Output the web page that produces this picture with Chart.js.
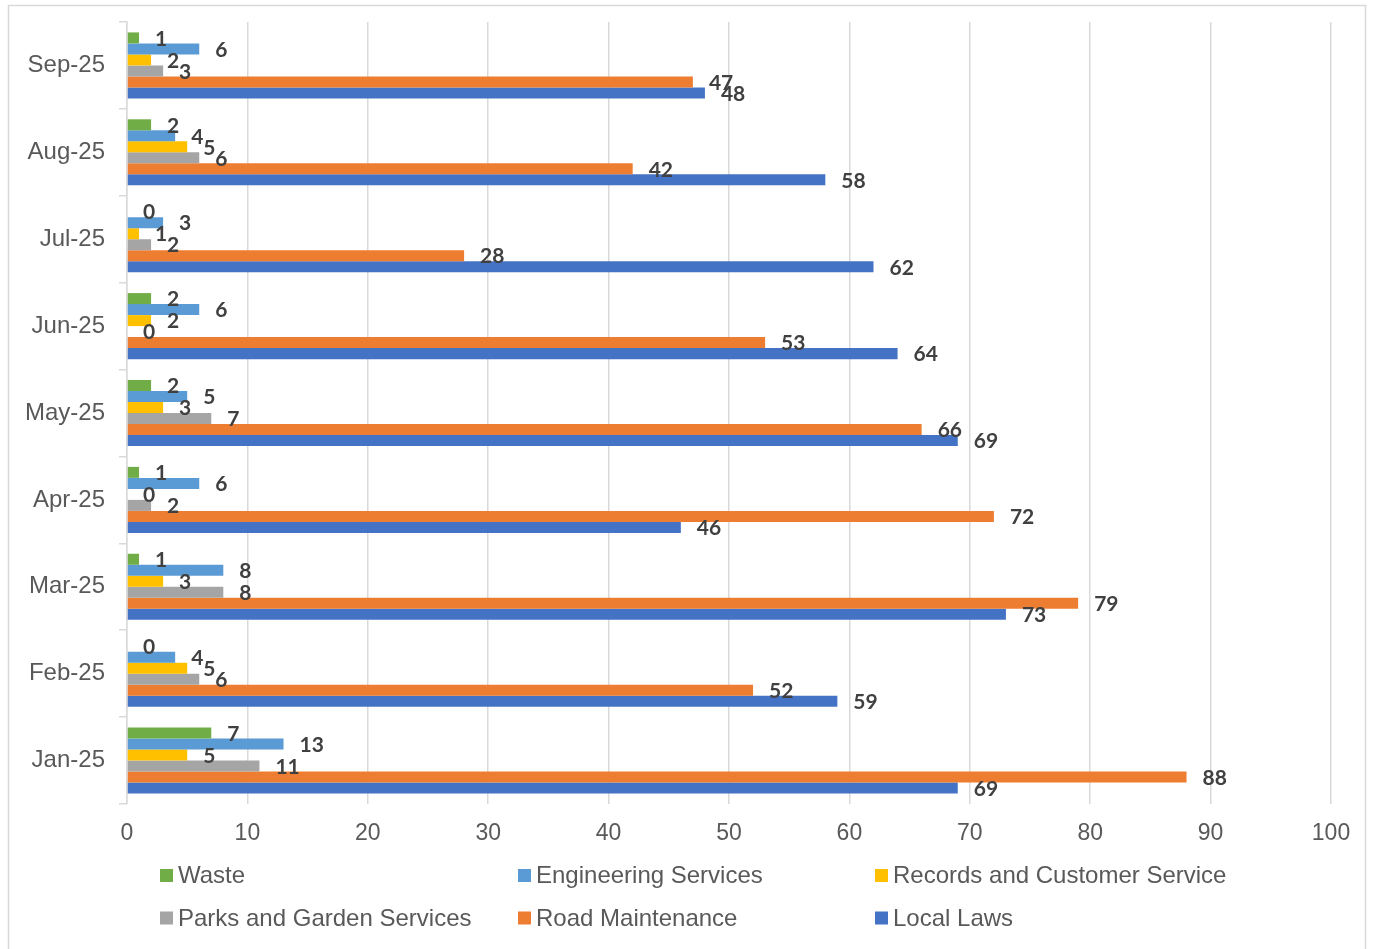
<!DOCTYPE html>
<html>
<head>
<meta charset="utf-8">
<script src="https://cdn.jsdelivr.net/npm/chart.js@4"></script>
<style>
	body { margin: 0; background: #fff; }
	#wrap { position: relative; width: 1376px; height: 949px; }
</style>
</head>
<body>
<div id="wrap"><canvas id="chart"></canvas></div>
<script>
// months listed top to bottom as in the chart
const months = ['Sep-25', 'Aug-25', 'Jul-25', 'Jun-25', 'May-25', 'Apr-25', 'Mar-25', 'Feb-25', 'Jan-25'];

const waste = [1, 2, 0, 2, 2, 1, 1, 0, 7];
const engineering = [6, 4, 3, 6, 5, 6, 8, 4, 13];
const records = [2, 5, 1, 2, 3, 0, 3, 5, 5];
const parks = [3, 6, 2, 0, 7, 2, 8, 6, 11];
const road = [47, 42, 28, 53, 66, 72, 79, 52, 88];
const localLaws = [48, 58, 62, 64, 69, 46, 73, 59, 69];

const xTicks = [0, 10, 20, 30, 40, 50, 60, 70, 80, 90, 100];

const series = [
	{ label: 'Waste', data: waste, color: '#70AD47' },
	{ label: 'Engineering Services', data: engineering, color: '#5B9BD5' },
	{ label: 'Records and Customer Service', data: records, color: '#FFC000' },
	{ label: 'Parks and Garden Services', data: parks, color: '#A5A5A5' },
	{ label: 'Road Maintenance', data: road, color: '#ED7D31' },
	{ label: 'Local Laws', data: localLaws, color: '#4472C4' },
];

const axisFont = '"Liberation Sans", Arial, sans-serif';

// value labels at the end of every bar
const barLabels = {
	id: 'barLabels',
	afterDatasetsDraw(chart) {
		const ctx = chart.ctx;
		ctx.save();
		ctx.font = 'bold 21px Lato, "Open Sans", sans-serif';
		ctx.fillStyle = '#404040';
		ctx.textAlign = 'left';
		ctx.textBaseline = 'middle';
		chart.data.datasets.forEach((ds, di) => {
			chart.getDatasetMeta(di).data.forEach((bar, i) => {
				ctx.fillText(String(ds.data[i]), bar.x + 16, bar.y + 1);
			});
		});
		ctx.restore();
	}
};

// frame + legend laid out in a 3 column grid like the original
const frameLegend = {
	id: 'frameLegend',
	beforeDraw(chart) {
		const ctx = chart.ctx;
		ctx.save();
		ctx.fillStyle = '#fff';
		ctx.fillRect(0, 0, chart.width, chart.height);
		ctx.strokeStyle = '#d9d9d9';
		ctx.lineWidth = 1.5;
		ctx.strokeRect(8.5, 5.5, 1357, 960);
		ctx.restore();
	},
	afterDraw(chart) {
		const ctx = chart.ctx;
		const cols = [160, 518, 875];
		const rows = [875.5, 918];
		ctx.save();
		ctx.font = '24px ' + axisFont;
		ctx.textBaseline = 'middle';
		ctx.textAlign = 'left';
		chart.data.datasets.forEach((ds, i) => {
			const x = cols[i % 3];
			const y = rows[Math.floor(i / 3)];
			ctx.fillStyle = ds.backgroundColor;
			ctx.fillRect(x, y - 6.5, 13, 13);
			ctx.fillStyle = '#595959';
			ctx.fillText(ds.label, x + 18, y + 1);
		});
		ctx.restore();
	}
};

const config = {
	type: 'bar',
	data: {
		labels: months,
		datasets: series.map(s => ({
			label: s.label,
			data: s.data,
			backgroundColor: s.color,
			borderWidth: 0,
			categoryPercentage: 0.76,
			barPercentage: 1,
		})),
	},
	options: {
		indexAxis: 'y',
		responsive: true,
		maintainAspectRatio: false,
		animation: false,
		layout: { padding: { top: 22, right: 45, left: 0, bottom: 0 } },
		plugins: {
			legend: { display: false },
			tooltip: { enabled: false },
		},
		scales: {
			x: {
				min: 0,
				max: 100,
				afterBuildTicks: scale => { scale.ticks = xTicks.map(value => ({ value })); },
				grid: { color: '#d9d9d9', lineWidth: 1.5, drawTicks: false },
				border: { display: false },
				ticks: { color: '#595959', font: { family: axisFont, size: 23 }, padding: 16 },
				afterFit: scale => { scale.height = 145; scale.paddingLeft = 0; scale.paddingRight = 0; },
			},
			y: {
				grid: { drawOnChartArea: false, drawTicks: true, tickLength: 8, color: '#d9d9d9', lineWidth: 1.5 },
				border: { color: '#d9d9d9', width: 1.5 },
				ticks: { color: '#595959', font: { family: axisFont, size: 24 }, padding: 14 },
				afterFit: scale => { scale.width = 127; scale.paddingTop = 0; scale.paddingBottom = 0; },
			},
		},
	},
	plugins: [frameLegend, barLabels],
};

new Chart(document.getElementById('chart').getContext('2d'), config);
</script>
</body>
</html>
